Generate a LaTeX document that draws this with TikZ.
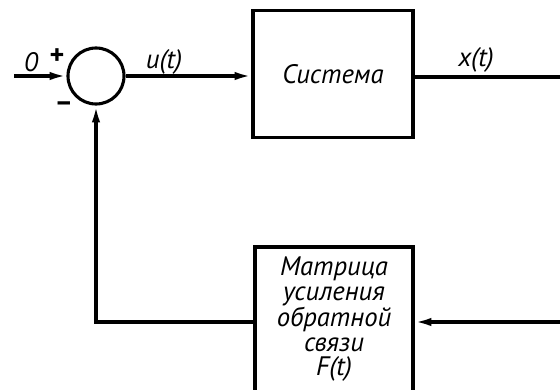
\documentclass[tikz,border=0pt]{standalone}
\usepackage{fontspec}
\setmainfont{PT Sans}
\usetikzlibrary{positioning,arrows.meta,calc}

\begin{document}
\begin{tikzpicture}[x=0.025cm, y=-0.025cm,
    blk/.style={rectangle, draw, line width=2.2pt, inner sep=2pt, align=center},
    sumc/.style={circle, draw, line width=2.2pt, minimum size=1.4cm, inner sep=0pt},
    sig/.style={line width=2.2pt, -{Latex[length=12pt,width=6pt]}},
    wire/.style={line width=2.2pt},
    lbl/.style={font=\fontsize{19}{17.5}\selectfont\itshape, inner sep=1pt},
    sgn/.style={font=\fontsize{20}{20}\selectfont\bfseries, inner sep=0pt},
  ]
  \clip (0,0) rectangle (560,389);

  % blocks
  \node[sumc] (sum) at (96,76) {};
  \node[blk, minimum width=4cm, minimum height=3.175cm, lbl] (sys) at (333,74) {Система};
  \node[blk, minimum width=3.95cm, minimum height=3.625cm, lbl] (fb) at (334,319.5)
    {Матрица\\усиления\\обратной\\связи\\F(t)};

  % free ends
  \coordinate (in) at (14,76);
  \coordinate (out) at (562,77);
  \coordinate (fbin) at (562,322);

  % signals
  \draw[sig] (in) -- (sum.west);
  \draw[sig] (sum.east) -- (sum.east -| sys.west);
  \draw[wire] (sys.east |- out) -- (out);
  \draw[sig] (fbin) -- (fb.east |- fbin);
  \draw[sig] (fb.west |- fbin) -| (sum.south);

  % labels
  \node[lbl] (zero) at (31,62) {0};
  \node[sgn] (plus) at (57,57) {+};
  \node[sgn] (minus) at (64,107) {--};
  \node[lbl] (ut) at (164,62) {u(t)};
  \node[lbl] (xt) at (476,60) {x(t)};
\end{tikzpicture}
\end{document}
